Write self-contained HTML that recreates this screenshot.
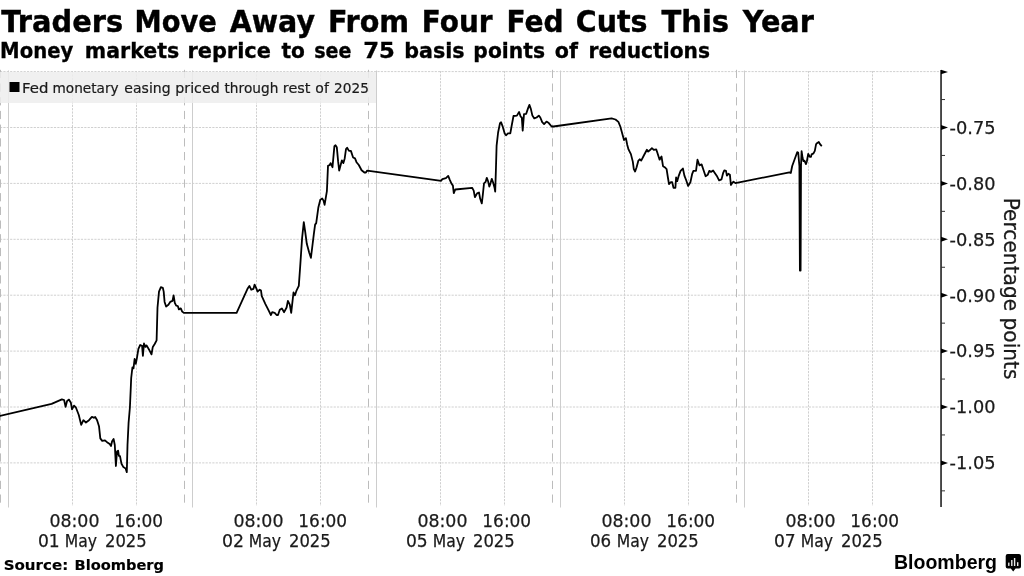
<!DOCTYPE html>
<html lang="en"><head><meta charset="utf-8"><title>Traders Move Away From Four Fed Cuts This Year</title>
<style>
html,body{margin:0;padding:0;background:#fff;}
body{width:1024px;height:576px;overflow:hidden;font-family:"DejaVu Sans","Liberation Sans",sans-serif;}
svg{display:block;}
text{font-family:"DejaVu Sans","Liberation Sans",sans-serif;fill:#000;}
.t1{font-weight:bold;font-size:30px;stroke:#000;stroke-width:0.4px;}
.t2{font-weight:bold;font-size:20.5px;stroke:#000;stroke-width:0.3px;}
.lg{font-size:14px;fill:#1a1a1a;stroke:#1a1a1a;stroke-width:0.2px;}
.ax{font-size:18px;fill:#1a1a1a;stroke:#1a1a1a;stroke-width:0.25px;}
.src{font-weight:bold;font-size:14.6px;stroke:#000;stroke-width:0.15px;}
.yl{font-size:21.8px;fill:#1a1a1a;stroke:#1a1a1a;stroke-width:0.25px;}
.bb{font-family:"Liberation Sans",sans-serif;font-weight:bold;font-size:20px;}
</style></head>
<body>
<svg width="1024" height="576" viewBox="0 0 1024 576">
<rect width="1024" height="576" fill="#fff"/>
<g stroke="#d0d0d0" stroke-width="1" stroke-dasharray="2.2 1.17" fill="none"><line x1="0" y1="71.6" x2="940" y2="71.6"/><line x1="0" y1="127.5" x2="940" y2="127.5"/><line x1="0" y1="183.4" x2="940" y2="183.4"/><line x1="0" y1="239.3" x2="940" y2="239.3"/><line x1="0" y1="295.2" x2="940" y2="295.2"/><line x1="0" y1="351.1" x2="940" y2="351.1"/><line x1="0" y1="407.0" x2="940" y2="407.0"/><line x1="0" y1="462.9" x2="940" y2="462.9"/><line x1="72.5" y1="71" x2="72.5" y2="506"/><line x1="136.5" y1="71" x2="136.5" y2="506"/><line x1="256.5" y1="71" x2="256.5" y2="506"/><line x1="320.5" y1="71" x2="320.5" y2="506"/><line x1="440.5" y1="71" x2="440.5" y2="506"/><line x1="504.5" y1="71" x2="504.5" y2="506"/><line x1="624.5" y1="71" x2="624.5" y2="506"/><line x1="688.5" y1="71" x2="688.5" y2="506"/><line x1="808.5" y1="71" x2="808.5" y2="506"/><line x1="872.5" y1="71" x2="872.5" y2="506"/></g>
<g stroke="#cdcdcd" stroke-width="1" fill="none"><line x1="8.5" y1="70.5" x2="8.5" y2="507.5"/><line x1="192.5" y1="70.5" x2="192.5" y2="507.5"/><line x1="376.5" y1="70.5" x2="376.5" y2="507.5"/><line x1="560.5" y1="70.5" x2="560.5" y2="507.5"/><line x1="744.5" y1="70.5" x2="744.5" y2="507.5"/></g>
<g stroke="#bcbcbc" stroke-width="1" stroke-dasharray="8.2 5.5" fill="none"><line x1="0.5" y1="69.8" x2="0.5" y2="506.5"/><line x1="184.5" y1="69.8" x2="184.5" y2="506.5"/><line x1="368.5" y1="69.8" x2="368.5" y2="506.5"/><line x1="552.5" y1="69.8" x2="552.5" y2="506.5"/><line x1="736.5" y1="69.8" x2="736.5" y2="506.5"/></g>
<rect x="0" y="72" width="376" height="31" fill="#ededed" fill-opacity="0.85"/>
<rect x="9.5" y="82" width="10" height="10" fill="#000"/>
<path d="M0.0 415.9 L51.6 403.8 L61.9 399.4 L64.1 400.0 L65.6 406.9 L67.1 400.9 L69.0 399.6 L70.9 402.8 L72.0 409.4 L74.0 405.6 L75.9 407.5 L78.8 415.0 L81.2 424.9 L83.4 420.2 L85.9 422.5 L89.0 420.2 L91.9 416.9 L93.8 417.8 L95.2 416.9 L97.1 420.2 L99.0 426.2 L100.3 438.4 L102.2 440.9 L105.0 440.3 L107.8 442.8 L109.7 444.0 L111.0 446.0 L112.1 441.2 L113.6 439.0 L114.8 445.0 L115.9 466.0 L117.0 451.5 L118.1 450.6 L118.9 455.9 L120.0 456.2 L121.5 463.8 L123.4 467.1 L125.6 468.4 L126.8 472.2 L127.5 445.0 L128.6 422.5 L129.9 407.5 L130.9 385.0 L131.2 378.0 L132.4 367.5 L133.5 368.4 L134.6 359.0 L135.8 363.8 L136.9 358.1 L138.4 348.8 L140.2 345.0 L142.1 345.9 L142.9 355.9 L144.0 343.5 L145.5 346.9 L146.6 345.4 L149.1 349.7 L151.5 354.4 L152.8 346.9 L154.7 344.0 L156.6 340.3 L157.5 307.5 L159.0 291.6 L160.9 287.2 L162.8 287.8 L163.7 291.6 L164.6 301.9 L166.1 306.6 L168.4 304.7 L170.2 301.9 L172.5 300.9 L173.6 295.3 L174.8 302.8 L176.2 305.6 L177.8 306.0 L178.9 309.4 L180.8 308.4 L182.2 311.6 L183.8 312.8 L236.6 312.8 L247.5 288.8 L249.4 285.9 L251.2 289.7 L253.5 288.8 L254.6 284.6 L256.1 287.8 L257.6 291.6 L259.7 289.7 L261.0 290.6 L261.8 296.2 L265.3 303.8 L268.1 309.4 L270.9 315.0 L272.2 312.2 L274.7 312.8 L276.6 315.0 L278.0 315.0 L279.8 309.8 L281.9 308.4 L284.1 312.2 L286.6 307.5 L287.9 300.9 L289.8 304.7 L291.2 312.8 L293.5 292.5 L295.0 295.3 L296.5 290.6 L298.8 285.9 L300.2 266.2 L302.1 238.1 L303.8 222.2 L305.3 232.5 L306.8 243.8 L309.1 252.2 L310.9 257.8 L312.2 247.5 L313.8 234.4 L315.1 224.6 L316.2 223.1 L318.4 207.2 L320.3 199.7 L322.2 198.4 L323.5 200.6 L324.6 204.8 L326.9 191.2 L328.0 165.9 L329.7 165.0 L330.6 163.1 L332.5 167.2 L334.4 146.2 L335.5 145.3 L336.8 147.2 L338.1 161.2 L339.2 170.6 L341.9 160.3 L343.4 163.1 L344.7 158.4 L346.0 149.1 L347.1 147.8 L349.0 150.9 L350.9 150.9 L353.1 157.5 L355.0 158.4 L356.5 162.2 L358.8 165.0 L361.6 170.2 L364.4 172.5 L365.9 172.5 L367.2 170.6 L439.4 180.6 L440.9 180.9 L442.4 179.1 L445.9 178.1 L448.2 175.9 L449.7 179.6 L451.6 183.8 L452.9 185.6 L453.8 193.1 L455.3 189.5 L472.1 187.8 L473.7 190.6 L474.9 197.2 L477.1 193.4 L479.0 192.5 L480.2 198.8 L481.8 203.4 L482.8 195.0 L484.0 183.4 L485.6 181.9 L486.8 177.8 L488.1 181.2 L489.3 186.6 L490.6 183.1 L491.8 178.8 L493.1 182.5 L494.6 188.1 L495.2 191.6 L495.9 170.0 L496.6 145.6 L498.1 132.5 L500.0 123.1 L501.1 122.2 L502.8 126.9 L504.7 133.4 L506.0 135.3 L507.9 133.4 L510.3 133.4 L511.8 125.0 L513.5 116.0 L516.9 115.6 L519.1 111.9 L520.6 116.6 L521.8 117.5 L522.7 130.6 L524.0 114.1 L526.2 113.8 L528.1 108.1 L529.4 104.9 L530.9 109.1 L532.4 115.6 L534.3 118.4 L536.6 117.5 L538.8 115.6 L540.3 117.5 L542.2 122.2 L544.1 124.1 L546.5 121.6 L548.8 123.1 L551.6 126.5 L553.4 126.5 L611.6 118.4 L615.5 119.5 L618.4 121.9 L620.3 126.5 L622.5 134.4 L624.0 140.0 L625.9 138.1 L627.2 144.7 L628.5 149.4 L630.9 154.1 L632.8 161.6 L633.8 169.1 L635.1 171.5 L636.6 167.2 L638.4 160.6 L639.9 159.3 L641.2 160.6 L644.1 155.0 L646.9 149.8 L648.2 151.6 L649.7 150.3 L651.9 148.1 L653.8 149.8 L656.2 149.4 L657.2 152.2 L659.6 159.7 L661.5 156.5 L663.0 166.2 L664.7 167.2 L666.6 169.1 L667.9 177.5 L669.0 184.1 L670.9 182.2 L672.2 182.2 L673.5 187.8 L675.4 187.8 L676.1 177.5 L677.2 181.2 L678.8 175.6 L680.6 170.9 L682.9 168.5 L684.4 175.6 L686.2 180.3 L688.1 185.9 L690.4 182.2 L692.2 173.8 L693.4 170.9 L696.0 170.9 L697.5 159.7 L699.4 165.3 L701.6 164.4 L703.5 170.0 L705.6 176.2 L707.8 174.7 L709.3 170.9 L711.0 171.9 L713.1 170.4 L715.3 173.8 L717.2 176.6 L719.1 180.3 L721.5 179.4 L723.2 172.8 L724.3 170.4 L726.0 170.9 L726.9 175.6 L728.4 173.8 L729.9 174.7 L730.9 185.0 L732.4 182.8 L733.5 181.6 L735.4 183.1 L789.4 172.4 L790.8 173.0 L792.2 166.0 L797.2 152.2 L798.2 152.5 L799.4 166.0 L799.9 270.5 L800.6 270.5 L801.0 166.0 L801.6 151.2 L802.6 158.1 L803.5 161.2 L804.4 160.6 L806.0 164.1 L806.9 161.2 L808.2 153.8 L808.8 155.0 L809.8 156.9 L811.0 156.9 L811.6 154.4 L813.5 153.4 L814.8 150.9 L816.0 144.7 L816.6 143.4 L818.8 141.9 L819.8 143.8 L821.3 145.6" fill="none" stroke="#000" stroke-width="1.8" stroke-linejoin="round" stroke-linecap="round"/>
<rect x="940.1" y="70" width="1.9" height="437" fill="#444"/>
<g fill="#000" stroke="none"><path d="M941 69.8 L948 72 L941 74.2Z"/><path d="M941 125.0 L948 127.5 L941 130.0Z"/><path d="M941 180.9 L948 183.4 L941 185.9Z"/><path d="M941 236.8 L948 239.3 L941 241.8Z"/><path d="M941 292.7 L948 295.2 L941 297.7Z"/><path d="M941 348.6 L948 351.1 L941 353.6Z"/><path d="M941 404.5 L948 407.0 L941 409.5Z"/><path d="M941 460.4 L948 462.9 L941 465.4Z"/></g>
<g stroke="#333" stroke-width="1"><line x1="941" y1="99.55" x2="945" y2="99.55"/><line x1="941" y1="155.45" x2="945" y2="155.45"/><line x1="941" y1="211.35" x2="945" y2="211.35"/><line x1="941" y1="267.25" x2="945" y2="267.25"/><line x1="941" y1="323.15" x2="945" y2="323.15"/><line x1="941" y1="379.05" x2="945" y2="379.05"/><line x1="941" y1="434.95" x2="945" y2="434.95"/><line x1="941" y1="490.85" x2="945" y2="490.85"/></g>
<text class="t1" y="32"><tspan x="1.36" textLength="121.72" lengthAdjust="spacingAndGlyphs">Traders</tspan> <tspan x="134.6" textLength="82.25" lengthAdjust="spacingAndGlyphs">Move</tspan> <tspan x="229.76" textLength="85.27" lengthAdjust="spacingAndGlyphs">Away</tspan> <tspan x="327.88" textLength="81.27" lengthAdjust="spacingAndGlyphs">From</tspan> <tspan x="421.84" textLength="70.7" lengthAdjust="spacingAndGlyphs">Four</tspan> <tspan x="506.53" textLength="57.11" lengthAdjust="spacingAndGlyphs">Fed</tspan> <tspan x="575.78" textLength="71.72" lengthAdjust="spacingAndGlyphs">Cuts</tspan> <tspan x="661.46" textLength="67.66" lengthAdjust="spacingAndGlyphs">This</tspan> <tspan x="742.74" textLength="71.12" lengthAdjust="spacingAndGlyphs">Year</tspan></text>
<text class="t2" y="58"><tspan x="0.08" textLength="73.26" lengthAdjust="spacingAndGlyphs">Money</tspan> <tspan x="84.75" textLength="94.5" lengthAdjust="spacingAndGlyphs">markets</tspan> <tspan x="187.42" textLength="83.49" lengthAdjust="spacingAndGlyphs">reprice</tspan> <tspan x="281.45" textLength="23.52" lengthAdjust="spacingAndGlyphs">to</tspan> <tspan x="314.17" textLength="37.28" lengthAdjust="spacingAndGlyphs">see</tspan> <tspan x="363.21" textLength="31.69" lengthAdjust="spacingAndGlyphs">75</tspan> <tspan x="404.24" textLength="60.42" lengthAdjust="spacingAndGlyphs">basis</tspan> <tspan x="473.37" textLength="71.61" lengthAdjust="spacingAndGlyphs">points</tspan> <tspan x="554.79" textLength="23.17" lengthAdjust="spacingAndGlyphs">of</tspan> <tspan x="588.47" textLength="121.51" lengthAdjust="spacingAndGlyphs">reductions</tspan></text>
<text class="lg" y="92.6"><tspan x="22.0" textLength="26.37" lengthAdjust="spacingAndGlyphs">Fed</tspan> <tspan x="52.48" textLength="66.17" lengthAdjust="spacingAndGlyphs">monetary</tspan> <tspan x="124.35" textLength="46.25" lengthAdjust="spacingAndGlyphs">easing</tspan> <tspan x="175.33" textLength="44.32" lengthAdjust="spacingAndGlyphs">priced</tspan> <tspan x="224.51" textLength="53.83" lengthAdjust="spacingAndGlyphs">through</tspan> <tspan x="282.81" textLength="27.66" lengthAdjust="spacingAndGlyphs">rest</tspan> <tspan x="315.35" textLength="13.5" lengthAdjust="spacingAndGlyphs">of</tspan> <tspan x="334.12" textLength="34.79" lengthAdjust="spacingAndGlyphs">2025</tspan></text>
<text class="src" y="569.6"><tspan x="3.67" textLength="64.5" lengthAdjust="spacingAndGlyphs">Source:</tspan> <tspan x="74.55" textLength="89.38" lengthAdjust="spacingAndGlyphs">Bloomberg</tspan></text>
<text class="ax" y="133.8"><tspan x="949.61" textLength="46.05" lengthAdjust="spacingAndGlyphs">-0.75</tspan></text>
<text class="ax" y="189.7"><tspan x="949.62" textLength="45.79" lengthAdjust="spacingAndGlyphs">-0.80</tspan></text>
<text class="ax" y="245.6"><tspan x="949.61" textLength="46.05" lengthAdjust="spacingAndGlyphs">-0.85</tspan></text>
<text class="ax" y="301.5"><tspan x="949.62" textLength="45.79" lengthAdjust="spacingAndGlyphs">-0.90</tspan></text>
<text class="ax" y="357.4"><tspan x="949.61" textLength="46.05" lengthAdjust="spacingAndGlyphs">-0.95</tspan></text>
<text class="ax" y="413.3"><tspan x="949.62" textLength="45.79" lengthAdjust="spacingAndGlyphs">-1.00</tspan></text>
<text class="ax" y="469.2"><tspan x="949.61" textLength="46.05" lengthAdjust="spacingAndGlyphs">-1.05</tspan></text>
<text class="ax" y="526.6"><tspan x="49.39" textLength="50.09" lengthAdjust="spacingAndGlyphs">08:00</tspan></text>
<text class="ax" y="526.6"><tspan x="114.32" textLength="48.84" lengthAdjust="spacingAndGlyphs">16:00</tspan></text>
<text class="ax" y="547.4"><tspan x="37.91" textLength="21.76" lengthAdjust="spacingAndGlyphs">01</tspan> <tspan x="64.73" textLength="32.29" lengthAdjust="spacingAndGlyphs">May</tspan> <tspan x="104.96" textLength="41.76" lengthAdjust="spacingAndGlyphs">2025</tspan></text>
<text class="ax" y="526.6"><tspan x="233.39" textLength="50.09" lengthAdjust="spacingAndGlyphs">08:00</tspan></text>
<text class="ax" y="526.6"><tspan x="298.32" textLength="48.84" lengthAdjust="spacingAndGlyphs">16:00</tspan></text>
<text class="ax" y="547.4"><tspan x="221.9" textLength="22.04" lengthAdjust="spacingAndGlyphs">02</tspan> <tspan x="248.73" textLength="32.29" lengthAdjust="spacingAndGlyphs">May</tspan> <tspan x="288.96" textLength="41.76" lengthAdjust="spacingAndGlyphs">2025</tspan></text>
<text class="ax" y="526.6"><tspan x="417.39" textLength="50.09" lengthAdjust="spacingAndGlyphs">08:00</tspan></text>
<text class="ax" y="526.6"><tspan x="482.32" textLength="48.84" lengthAdjust="spacingAndGlyphs">16:00</tspan></text>
<text class="ax" y="547.4"><tspan x="405.91" textLength="21.76" lengthAdjust="spacingAndGlyphs">05</tspan> <tspan x="432.73" textLength="32.29" lengthAdjust="spacingAndGlyphs">May</tspan> <tspan x="472.96" textLength="41.76" lengthAdjust="spacingAndGlyphs">2025</tspan></text>
<text class="ax" y="526.6"><tspan x="601.39" textLength="50.09" lengthAdjust="spacingAndGlyphs">08:00</tspan></text>
<text class="ax" y="526.6"><tspan x="666.32" textLength="48.84" lengthAdjust="spacingAndGlyphs">16:00</tspan></text>
<text class="ax" y="547.4"><tspan x="589.94" textLength="21.23" lengthAdjust="spacingAndGlyphs">06</tspan> <tspan x="616.73" textLength="32.29" lengthAdjust="spacingAndGlyphs">May</tspan> <tspan x="656.96" textLength="41.76" lengthAdjust="spacingAndGlyphs">2025</tspan></text>
<text class="ax" y="526.6"><tspan x="785.39" textLength="50.09" lengthAdjust="spacingAndGlyphs">08:00</tspan></text>
<text class="ax" y="526.6"><tspan x="850.32" textLength="48.84" lengthAdjust="spacingAndGlyphs">16:00</tspan></text>
<text class="ax" y="547.4"><tspan x="773.91" textLength="21.76" lengthAdjust="spacingAndGlyphs">07</tspan> <tspan x="800.73" textLength="32.29" lengthAdjust="spacingAndGlyphs">May</tspan> <tspan x="840.96" textLength="41.76" lengthAdjust="spacingAndGlyphs">2025</tspan></text>

<text class="yl" transform="translate(1003.7 197.67) rotate(90)" textLength="181.76" lengthAdjust="spacingAndGlyphs">Percentage points</text>
<text class="bb" x="894" y="569" textLength="103" lengthAdjust="spacingAndGlyphs">Bloomberg</text>
<g><path d="M1007.7 553.9h11.3a2 2 0 0 1 2 2v10.6a2 2 0 0 1-2 2h-3.4l-2.4 3-2.4-3h-3.1a2 2 0 0 1-2-2v-10.6a2 2 0 0 1 2-2z" fill="#000"/>
<g fill="#e8e8e8"><rect x="1008.1" y="562.6" width="1.4" height="3.3"/><rect x="1011.1" y="560" width="1.4" height="6"/><rect x="1013.9" y="558" width="1.4" height="8"/><rect x="1017" y="562.2" width="1.4" height="3.8"/></g></g>
</svg>
</body></html>
